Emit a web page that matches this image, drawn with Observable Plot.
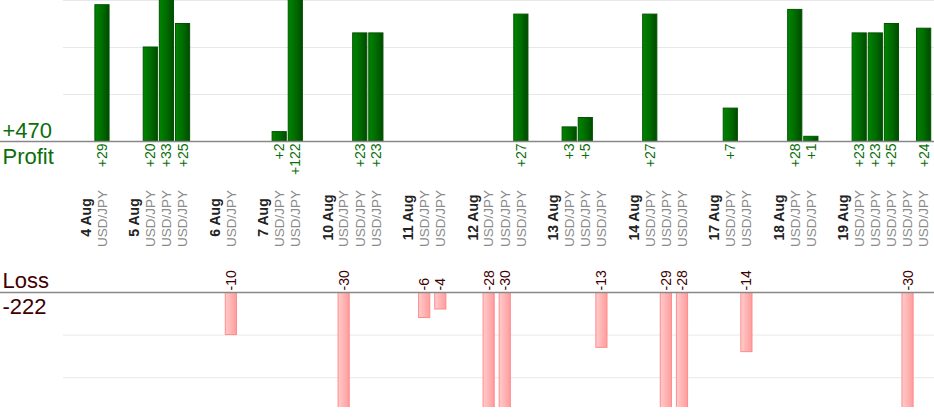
<!DOCTYPE html>
<html>
<head>
<meta charset="utf-8">
<script src="https://cdn.jsdelivr.net/npm/d3@7"></script>
<script src="https://cdn.jsdelivr.net/npm/@observablehq/plot@0.6"></script>
<style>
  html, body { margin: 0; padding: 0; background: #fff; }
  #chart { width: 934px; height: 420px; position: relative; overflow: hidden; }
  #chart svg { display: block; font-family: "Liberation Sans", Arial, sans-serif; }
</style>
</head>
<body>
<div id="chart"></div>
<script>
// ---- data ----
const days = ["4 Aug","5 Aug","6 Aug","7 Aug","10 Aug","11 Aug","12 Aug","13 Aug","14 Aug","17 Aug","18 Aug","19 Aug"];
const tradeDays = ["4 Aug","5 Aug","5 Aug","5 Aug","6 Aug","7 Aug","7 Aug","10 Aug","10 Aug","10 Aug","11 Aug","11 Aug","12 Aug","12 Aug","12 Aug","13 Aug","13 Aug","13 Aug","14 Aug","14 Aug","14 Aug","17 Aug","17 Aug","18 Aug","18 Aug","19 Aug","19 Aug","19 Aug","19 Aug","19 Aug"];
const tradePairs = tradeDays.map(() => "USD/JPY");
const tradePnl = [29, 20,33,25, -10, 2,122, -30,23,23, -6,-4, -28,-30,27, 3,5,-13, 27,-29,-28, 7,-14, 28,1, 23,23,25,-30,24];
const profitGrid = [10, 20, 30];
const lossGrid = [-10, -20];

// ---- derived tables ----
const trades = tradePnl.map((v, i) => ({key: "t" + i, day: tradeDays[i], pair: tradePairs[i], pnl: v}));
const slots = [];
const dayRows = [];
days.forEach(d => {
  slots.push("gap|" + d);
  slots.push("day|" + d);
  dayRows.push({key: "day|" + d, day: d});
  trades.filter(t => t.day === d).forEach(t => slots.push(t.key));
});
const profits = trades.filter(t => t.pnl > 0);
const losses = trades.filter(t => t.pnl < 0);
const totalProfit = d3.sum(profits, d => d.pnl);
const totalLoss = d3.sum(losses, d => d.pnl);

const FONT = "Liberation Sans, Arial, sans-serif";
const xScale = {type: "band", domain: slots, range: [61.7, 931.7], paddingInner: 0.12, paddingOuter: 0.06, round: false, axis: null};

// ---- top: profit ----
const profitChart = Plot.plot({
  width: 934, height: 260,
  marginLeft: 0, marginRight: 0, marginTop: 0, marginBottom: 119,
  style: {fontFamily: FONT, background: "transparent", overflow: "visible"},
  x: xScale,
  y: {domain: [0, 30], axis: null},
  marks: [
    Plot.ruleY(profitGrid, {insetLeft: 63, stroke: "#e8e8e8", strokeWidth: 1}),
    Plot.barY(profits, {x: "key", y: "pnl", fill: "url(#gradGreen)", stroke: "#005400", strokeWidth: 1, clip: true}),
    Plot.ruleY([0], {stroke: "#888", strokeWidth: 1.3}),
    Plot.text(profits, {x: "key", y: () => 0, text: d => "+" + d.pnl, rotate: -90, textAnchor: "end", dy: 2, fill: "#0b6e0b", fontSize: 14}),
    Plot.text(dayRows, {x: "key", y: () => 0, text: "day", rotate: -90, textAnchor: "middle", dy: 76, fill: "#222", fontSize: 14, fontWeight: "bold"}),
    Plot.text(trades, {x: "key", y: () => 0, text: "pair", rotate: -90, textAnchor: "middle", dy: 77, fill: "#8a8a8a", fontSize: 13.5}),
    Plot.text(["+" + totalProfit], {frameAnchor: "bottom-left", text: d => d, textAnchor: "start", lineAnchor: "bottom", dx: 2, dy: -4, fontSize: 22, fill: "#0b6e0b"}),
    Plot.text(["Profit"], {frameAnchor: "bottom-left", text: d => d, textAnchor: "start", lineAnchor: "bottom", dx: 2, dy: 22, fontSize: 22, fill: "#0b6e0b"})
  ]
});

// ---- bottom: loss ----
const lossChart = Plot.plot({
  width: 934, height: 160,
  marginLeft: 0, marginRight: 0, marginTop: 32, marginBottom: 13,
  style: {fontFamily: FONT, background: "transparent", overflow: "visible"},
  x: xScale,
  y: {domain: [-27, 0], axis: null},
  marks: [
    Plot.ruleY(lossGrid, {insetLeft: 63, stroke: "#e8e8e8", strokeWidth: 1}),
    Plot.barY(losses, {x: "key", y: "pnl", fill: "url(#gradPink)", stroke: "#ff8c8c", strokeWidth: 1, insetLeft: 1.5, insetRight: 1.5, clip: true}),
    Plot.ruleY([0], {stroke: "#888", strokeWidth: 1.3}),
    Plot.text(losses, {x: "key", y: () => 0, text: d => String(d.pnl), rotate: -90, textAnchor: "start", dy: -2, fill: "#400000", fontSize: 14}),
    Plot.text(["Loss"], {frameAnchor: "top-left", text: d => d, textAnchor: "start", lineAnchor: "bottom", dx: 2, dy: -5, fontSize: 22, fill: "#400000"}),
    Plot.text([String(totalLoss)], {frameAnchor: "top-left", text: d => d, textAnchor: "start", lineAnchor: "bottom", dx: 2, dy: 21, fontSize: 22, fill: "#400000"})
  ]
});

function addGradient(svg, id, stops) {
  const defs = d3.select(svg).insert("defs", ":first-child");
  const g = defs.append("linearGradient").attr("id", id).attr("x1", "0%").attr("x2", "100%").attr("y1", "0%").attr("y2", "0%");
  stops.forEach(([o, c]) => g.append("stop").attr("offset", o).attr("stop-color", c));
}
addGradient(profitChart, "gradGreen", [["0%", "#008400"], ["55%", "#006a00"], ["100%", "#004a00"]]);
addGradient(lossChart, "gradPink", [["0%", "#ffcccc"], ["100%", "#ff9c9c"]]);

const root = document.getElementById("chart");
root.appendChild(profitChart);
root.appendChild(lossChart);
</script>
</body>
</html>
